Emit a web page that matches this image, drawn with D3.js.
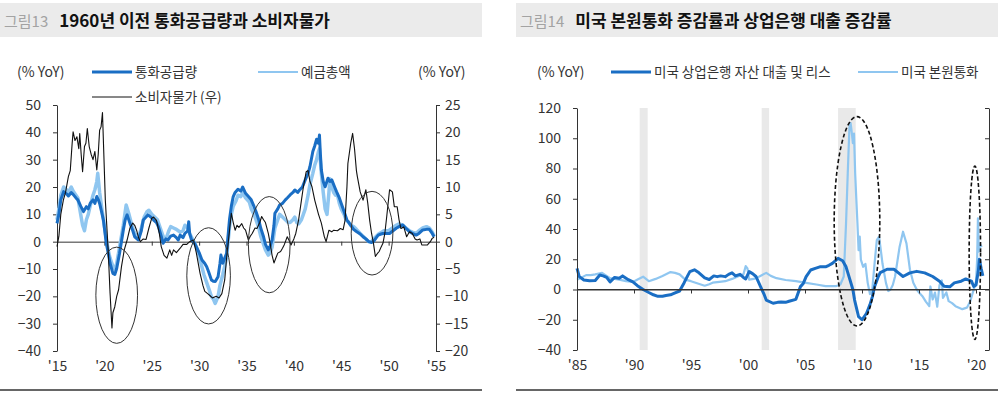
<!DOCTYPE html>
<html><head><meta charset="utf-8">
<script src="https://cdn.jsdelivr.net/npm/d3@7"></script>
<style>
body{margin:0;background:#fff;}
svg{display:block;font-family:"Noto Sans CJK KR","Noto Sans",sans-serif;}
</style></head><body>
<svg id="c" width="1000" height="397"></svg>
<script>
// ---------- Figure 13 data (year, % YoY) ----------
const moneySupply = [[1915.0,6.7],[1915.2,10],[1915.4,15.3],[1915.7,18.3],[1916.0,17.5],[1916.2,16.7],[1916.5,18],[1916.7,17.3],[1917.0,16],[1917.2,15.3],[1917.5,13],[1917.8,11],[1918.1,12.8],[1918.3,12],[1918.5,14],[1918.8,15.3],[1919.0,14],[1919.2,16.5],[1919.4,15],[1919.5,14],[1919.7,11],[1919.9,7.9],[1920.2,-0.6],[1920.4,-4],[1920.6,-7.9],[1920.9,-11.6],[1921.1,-12],[1921.3,-9.8],[1921.6,-4.3],[1922.0,4.3],[1922.2,8],[1922.4,9.8],[1922.7,6.7],[1923.0,4],[1923.2,1.8],[1923.6,0.6],[1923.9,4],[1924.1,7.9],[1924.4,9],[1924.6,9.8],[1924.9,9],[1925.2,7.9],[1925.5,7],[1925.7,5.5],[1926.0,2],[1926.2,-0.6],[1926.5,1],[1926.7,0.6],[1927.0,2],[1927.3,2.4],[1927.6,1.5],[1927.8,0.6],[1928.0,2.4],[1928.3,1.5],[1928.5,3],[1928.8,4],[1928.9,7.3],[1929.0,3],[1929.2,0.6],[1929.5,-0.5],[1929.7,-1.8],[1930.0,-4],[1930.3,-6.7],[1930.6,-8],[1930.8,-9.2],[1931.0,-11],[1931.3,-14],[1931.5,-14.5],[1931.7,-14.6],[1932.0,-12.8],[1932.2,-8],[1932.3,-4.9],[1932.5,-7.9],[1932.7,-6],[1932.9,-4.3],[1933.0,0],[1933.2,7.9],[1933.4,13],[1933.6,16.5],[1933.8,18],[1934.1,19.2],[1934.4,18.5],[1934.6,20],[1934.9,17.7],[1935.2,16.5],[1935.5,15.3],[1935.8,12.8],[1936.0,11],[1936.3,7.9],[1936.5,5],[1936.8,1.8],[1937.0,-1],[1937.3,-3.0],[1937.5,-1.5],[1937.7,0.6],[1937.9,6],[1938.0,10.4],[1938.3,12],[1938.5,13.4],[1938.8,14],[1939.1,15.3],[1939.3,16],[1939.6,17.1],[1939.9,18],[1940.1,18.9],[1940.4,18],[1940.6,18.9],[1940.9,20],[1941.2,22.6],[1941.5,25],[1941.7,27.5],[1942.0,33],[1942.2,35],[1942.4,37.5],[1942.6,36],[1942.7,39],[1942.8,32],[1942.9,26.2],[1943.1,22],[1943.3,20.1],[1943.6,23.2],[1943.8,22],[1944.0,22.6],[1944.3,20],[1944.5,18.3],[1944.8,16],[1945.0,14],[1945.3,11],[1945.6,7.9],[1945.8,7],[1946.1,5.5],[1946.3,4.5],[1946.6,3.7],[1947.0,2.8],[1947.3,1.8],[1947.6,1],[1947.9,0],[1948.2,-0.3],[1948.4,0],[1948.7,1.5],[1948.9,2.4],[1949.2,2.8],[1949.4,3],[1949.8,3],[1950.1,3],[1950.4,3.8],[1950.8,4.9],[1951.1,5.5],[1951.5,6.1],[1951.8,5],[1952.2,3.7],[1952.5,3],[1952.9,2.4],[1953.2,3],[1953.6,4.3],[1954.0,4.5],[1954.3,4.5],[1954.6,3],[1954.8,1.8]];

const deposits = [[1915.0,8],[1915.2,12],[1915.4,17],[1915.7,20],[1916.0,19],[1916.2,18],[1916.5,20],[1916.7,18.5],[1917.0,17],[1917.2,16],[1917.5,10],[1917.7,6],[1917.9,4],[1918.1,8],[1918.3,10],[1918.5,13],[1918.8,17],[1919.0,19],[1919.2,22],[1919.3,25],[1919.5,18],[1919.7,13],[1919.9,8],[1920.2,1],[1920.4,-3],[1920.6,-6],[1920.9,-9],[1921.1,-10],[1921.3,-8],[1921.6,-2],[1922.0,6],[1922.2,11],[1922.3,13.4],[1922.6,10],[1922.9,6],[1923.2,3],[1923.6,1.5],[1923.9,5],[1924.2,9],[1924.5,11],[1924.7,11.5],[1925.0,10],[1925.3,9],[1925.6,8],[1925.8,6],[1926.1,3],[1926.3,1],[1926.6,2],[1926.8,4],[1927.0,5.5],[1927.3,5],[1927.6,4.5],[1927.8,4],[1928.0,3.5],[1928.3,4],[1928.5,6],[1928.8,5],[1929.0,3],[1929.3,1],[1929.6,-1],[1929.9,-4],[1930.2,-8],[1930.5,-12],[1930.8,-15],[1931.1,-18],[1931.3,-20.1],[1931.5,-21],[1931.7,-22.6],[1932.0,-20],[1932.2,-16],[1932.5,-12],[1932.7,-9],[1932.9,-6],[1933.0,-2],[1933.2,5],[1933.4,10],[1933.6,13],[1933.9,15],[1934.1,17],[1934.4,16.5],[1934.6,18],[1934.9,16],[1935.3,14.5],[1935.5,12],[1935.8,10],[1936.0,8],[1936.3,5],[1936.5,2],[1936.8,-1],[1937.0,-3],[1937.3,-4.9],[1937.5,-4],[1937.7,-2],[1938.0,5],[1938.3,8],[1938.5,10],[1938.8,9],[1939.1,8],[1939.4,7],[1939.6,7],[1939.9,8],[1940.1,9],[1940.3,7],[1940.5,6.5],[1940.8,8],[1941.0,10],[1941.2,12],[1941.5,17],[1941.7,21],[1942.0,25],[1942.2,28],[1942.4,30],[1942.6,33],[1942.7,34],[1942.9,25],[1943.1,18],[1943.3,12],[1943.5,10],[1943.7,18],[1943.8,23],[1944.0,20],[1944.2,18],[1944.4,17],[1944.6,17],[1944.8,14],[1945.0,12],[1945.3,10],[1945.5,8],[1945.8,7],[1946.0,6],[1946.3,5.5],[1946.6,4.5],[1947.0,3],[1947.3,2],[1947.6,1],[1947.9,0],[1948.2,0],[1948.4,1],[1948.7,2],[1949.0,3],[1949.3,3.5],[1949.5,4],[1950.0,4],[1950.4,5],[1950.8,6],[1951.1,6.5],[1951.5,6],[1951.8,5],[1952.2,4],[1952.5,3.5],[1952.9,3],[1953.2,4],[1953.6,5],[1954.0,5.5],[1954.3,5],[1954.6,3.5],[1954.8,2]];

const cpi = [[1915.0,-0.9],[1915.2,1],[1915.4,5],[1915.67,7.6],[1915.9,9],[1916.2,11.9],[1916.4,13],[1916.6,18],[1916.7,20.1],[1916.9,18.5],[1917.1,19.2],[1917.3,17],[1917.4,19.8],[1917.55,16],[1917.7,12.8],[1917.9,17.4],[1918.05,18],[1918.2,20.7],[1918.4,17.4],[1918.6,16],[1918.8,15],[1919.0,16.5],[1919.2,13.1],[1919.35,16],[1919.5,20.4],[1919.65,21],[1919.8,23.6],[1920.1,7.6],[1920.4,-1.5],[1920.6,-9.4],[1920.8,-15.8],[1920.9,-13],[1921.1,-11.9],[1921.3,-10],[1921.5,-8.8],[1921.8,-4.6],[1922.1,-1.5],[1922.4,0.3],[1922.7,2.5],[1923.0,3.4],[1923.2,3],[1923.4,2.1],[1923.6,0.8],[1923.8,0],[1924.1,0.5],[1924.4,0.4],[1924.7,2.5],[1925.0,4.3],[1925.2,4.5],[1925.5,3.9],[1925.8,1.5],[1926.0,-0.9],[1926.3,-2.5],[1926.6,-3.0],[1926.9,-1.5],[1927.1,-2.5],[1927.3,-1.5],[1927.6,-2],[1928.0,-1.2],[1928.3,-0.5],[1928.7,-0.5],[1929.0,0],[1929.4,0.3],[1929.7,-2],[1930.1,-5.8],[1930.4,-8],[1930.6,-9.1],[1930.9,-9.5],[1931.1,-9.8],[1931.4,-10.3],[1931.8,-10],[1932.1,-10.3],[1932.4,-9.5],[1932.7,-7],[1932.9,-3],[1933.1,0.3],[1933.4,5.2],[1933.6,3.5],[1933.8,2.1],[1934.0,3],[1934.2,2.6],[1934.5,3.3],[1934.7,2.5],[1934.9,2.1],[1935.2,0.3],[1935.4,1],[1935.6,1.5],[1935.9,2.5],[1936.1,2.4],[1936.4,3.5],[1936.6,4.6],[1936.8,4],[1937.0,3.5],[1937.3,1.5],[1937.5,-0.3],[1937.7,-2.5],[1937.9,-3.9],[1938.1,-3],[1938.3,-2.1],[1938.6,-1.8],[1938.8,-1.2],[1939.0,-0.5],[1939.3,0.9],[1939.5,0.2],[1939.7,-0.6],[1940.0,0.5],[1940.2,1.5],[1940.5,4],[1940.8,7.6],[1941.0,10],[1941.3,12.8],[1941.5,13],[1941.7,11],[1941.9,10.1],[1942.2,7.6],[1942.6,5],[1942.9,3.4],[1943.2,1],[1943.4,0],[1943.7,2.1],[1944.0,1.8],[1944.2,2.1],[1944.6,2],[1944.9,2.4],[1945.2,2.2],[1945.4,3.9],[1945.6,10],[1945.7,14.3],[1946.0,18],[1946.2,19.8],[1946.4,17.0],[1946.6,13],[1946.7,11.9],[1947.0,9.1],[1947.3,7.6],[1947.6,9.5],[1947.8,7],[1948.0,3.9],[1948.2,1.5],[1948.4,-0.3],[1948.6,-2.7],[1948.8,-2.2],[1949.0,-1.8],[1949.2,-1],[1949.4,-0.3],[1949.6,1.5],[1949.8,4.6],[1950.1,9.5],[1950.4,9.1],[1950.6,6.4],[1950.9,6.4],[1951.1,4],[1951.3,2.4],[1951.6,2.7],[1951.9,0.9],[1952.2,1.8],[1952.5,1.5],[1952.8,0.5],[1953.0,0.3],[1953.3,0.5],[1953.5,-0.6],[1953.8,-0.6],[1954.1,-0.6],[1954.4,0],[1954.6,0.6],[1954.8,0.8]];

const ticksL13 = [-40,-30,-20,-10,0,10,20,30,40,50];
const ticksR13 = [-20,-15,-10,-5,0,5,10,15,20,25];
const xTicks13 = [1915,1920,1925,1930,1935,1940,1945,1950,1955];
const xLabels13 = ["'15","'20","'25","'30","'35","'40","'45","'50","'55"];
// annotation ellipses: [centre year, centre value (left axis), half-width in years, half-height in %]
const ellipses13 = [[1921.3,-19.6,2.2,17.6],[1931.0,-12.5,2.3,17.6],[1937.4,-1.1,2.2,17.6],[1948.25,3.1,2.2,15.3]];

// ---------- Figure 14 data ----------
const bankLoans = [[1985.0,14],[1985.2,8.5],[1985.6,6.3],[1986.1,5.8],[1986.6,6],[1987.0,9.6],[1987.3,9],[1987.6,8],[1987.9,5],[1988.3,8],[1988.7,7.5],[1989.0,9],[1989.5,6.5],[1989.9,5],[1990.3,2.5],[1990.8,0],[1991.3,-2],[1991.7,-3.5],[1992.1,-4.5],[1992.5,-4.5],[1992.8,-4],[1993.2,-3.5],[1993.5,-2.5],[1994.0,-1],[1994.4,4.5],[1994.7,9],[1994.9,11.8],[1995.3,13],[1995.7,11],[1996.2,7.7],[1996.6,6.6],[1997.0,9],[1997.3,8.5],[1997.6,9],[1998.0,8.5],[1998.3,10],[1998.6,11],[1998.9,9],[1999.3,10],[1999.6,8],[1999.8,7],[2000.1,11.8],[2000.4,10.5],[2000.7,8.6],[2001.1,1.9],[2001.4,-3],[2001.6,-7],[2002.2,-9.1],[2002.6,-8.5],[2002.9,-8.3],[2003.3,-8.5],[2003.6,-7.8],[2004.2,-6.5],[2004.6,1.9],[2004.85,4],[2005.1,8.5],[2005.5,12.9],[2005.9,14],[2006.3,15],[2006.8,15],[2007.1,16],[2007.4,17.3],[2007.9,20.6],[2008.3,19],[2008.6,15],[2008.9,7.5],[2009.2,0],[2009.35,-7],[2009.7,-18],[2010.0,-20],[2010.4,-15.7],[2010.7,-10],[2010.9,-5],[2011.1,1.9],[2011.4,8],[2011.6,11.1],[2012.2,13.4],[2012.8,13.4],[2013.2,11],[2013.6,8.6],[2014.2,11],[2014.8,12],[2015.5,11],[2016.2,8.6],[2016.8,5.5],[2017.2,2.2],[2017.7,1.8],[2018.1,4.4],[2018.7,5.5],[2019.1,7],[2019.6,5.5],[2019.8,2],[2020.0,3],[2020.2,12],[2020.3,20],[2020.45,14],[2020.6,9]];

const monetaryBase = [[1985.0,6.5],[1985.4,8],[1985.8,9.5],[1986.2,9.5],[1986.6,10],[1987.2,11],[1987.6,9],[1987.9,7.5],[1988.3,7],[1988.7,6.5],[1989.3,5.5],[1989.9,5],[1990.4,7],[1990.8,8.5],[1991.3,5.5],[1991.9,7],[1992.5,9],[1993.2,11.5],[1993.6,11],[1994.0,10],[1994.5,6.5],[1995.0,5.5],[1995.4,4.5],[1995.8,3.5],[1996.2,2.5],[1996.6,3.5],[1996.9,4.5],[1997.5,5],[1998.0,5.5],[1998.6,7],[1999.2,9],[1999.6,10],[1999.8,15.5],[1999.95,14],[2000.1,6.5],[2000.5,7],[2001.0,8.6],[2001.6,11],[2002.0,9],[2002.5,7.5],[2003.3,6.3],[2004.2,5.5],[2005.1,4.4],[2006.0,3.3],[2006.8,2.2],[2007.7,2.2],[2008.1,3.3],[2008.4,8.6],[2008.6,43.8],[2008.75,76.8],[2008.9,107.6],[2009.0,110],[2009.1,104],[2009.2,96.7],[2009.3,103],[2009.4,76.8],[2009.5,60],[2009.6,43.8],[2009.7,26],[2009.8,35],[2009.9,19.8],[2010.1,15],[2010.3,17],[2010.5,4.4],[2010.7,-3],[2010.9,0],[2011.1,17],[2011.3,32.7],[2011.5,35],[2011.8,17],[2012.1,4.4],[2012.3,-1],[2012.5,0],[2012.7,3],[2012.9,8.6],[2013.3,28.3],[2013.6,38.2],[2013.9,30.5],[2014.2,13.4],[2014.5,4.4],[2014.8,0],[2015.0,-2],[2015.3,-4.4],[2015.6,-8],[2015.9,-11],[2016.0,2],[2016.2,-6.6],[2016.4,-2],[2016.6,-11.4],[2016.8,3],[2017.0,6],[2017.1,-5.5],[2017.4,-2],[2017.6,-7.7],[2017.9,-9],[2018.2,-11],[2018.5,-12],[2018.8,-13],[2019.2,-12],[2019.5,-7.7],[2019.8,0],[2020.0,5],[2020.1,20],[2020.17,47],[2020.25,25],[2020.35,30],[2020.5,28]];

const recessions = [[1990.5,1991.2],[2001.2,2001.85],[2007.9,2009.45]];
const ticksL14 = [-40,-20,0,20,40,60,80,100,120];
const xTicks14 = [1985,1990,1995,2000,2005,2010,2015,2020];
const xLabels14 = ["'85","'90","'95","'00","'05","'10","'15","'20"];
const ellipses14 = [[2009.56,45.1,2.0,69.2],[2019.9,24.3,0.5,57.3]];

// ---------- colours ----------
const DARK = "#1a6ec4", LIGHT = "#8fc6f0", TXT = "#333";

const svg = d3.select("#c");

function titleBar(x0, x1, fig, title){
  svg.append("rect").attr("x",x0).attr("y",3).attr("width",x1-x0).attr("height",34).attr("fill","#ebebeb");
  const t = svg.append("text").attr("x",x0+4).attr("y",27);
  t.append("tspan").attr("font-size",15).attr("fill","#a3a3a3").text(fig);
  t.append("tspan").attr("dx",11).attr("font-size",17).attr("font-weight","bold").attr("fill","#111").text(title);
  svg.append("line").attr("x1",x0).attr("x2",x1).attr("y1",390).attr("y2",390).attr("stroke","#333").attr("stroke-width",1.5);
}
function legendItem(x, y, color, w, label){
  svg.append("line").attr("x1",x).attr("x2",x+40).attr("y1",y).attr("y2",y).attr("stroke",color).attr("stroke-width",w);
  svg.append("text").attr("x",x+43).attr("y",y+5).attr("font-size",13.5).attr("fill",TXT).text(label);
}
function styleAxis(g){
  g.selectAll("path,line").attr("stroke",TXT);
  g.selectAll("text").attr("fill",TXT).attr("font-size",14).attr("font-family",'"Noto Sans CJK KR","Noto Sans",sans-serif');
}
function ellipse(g, x, y, e, dashed){
  const [cx, cy, rx, ry] = e;
  g.append("ellipse").attr("cx",x(cx)).attr("cy",y(cy))
    .attr("rx",x(cx+rx)-x(cx)).attr("ry",y(cy-ry)-y(cy))
    .attr("fill","none").attr("stroke",dashed?"#111":"#333")
    .attr("stroke-width",dashed?1.6:1).attr("stroke-dasharray",dashed?"4,2.5":null);
}

// ================= Figure 13 =================
titleBar(0, 482, "그림13", "1960년 이전 통화공급량과 소비자물가");
svg.append("text").attr("x",17).attr("y",77).attr("font-size",14).attr("fill",TXT).text("(% YoY)");
svg.append("text").attr("x",418).attr("y",77).attr("font-size",14).attr("fill",TXT).text("(% YoY)");
legendItem(92, 72, DARK, 3, "통화공급량");
legendItem(258, 72, LIGHT, 2, "예금총액");
legendItem(92, 97, "#111", 1, "소비자물가 (우)");

const x13 = d3.scaleLinear().domain([1915,1955]).range([57,436]);
const yL13 = d3.scaleLinear().domain([-40,50]).range([351,105]);
const yR13 = d3.scaleLinear().domain([-20,25]).range([351,105]);

styleAxis(svg.append("g").attr("transform","translate(57,0)")
  .call(d3.axisLeft(yL13).tickValues(ticksL13).tickSize(4).tickPadding(12).tickSizeOuter(0)));
styleAxis(svg.append("g").attr("transform","translate(436,0)")
  .call(d3.axisRight(yR13).tickValues(ticksR13).tickSize(4).tickPadding(5).tickSizeOuter(0)));
styleAxis(svg.append("g").attr("transform",`translate(0,${yL13(0)})`)
  .call(d3.axisBottom(x13).tickValues(xTicks13).tickSize(4).tickFormat("").tickSizeOuter(0)));
const xl13 = svg.append("g").attr("transform","translate(0,351)")
  .call(d3.axisBottom(x13).tickValues(xTicks13).tickSize(0).tickPadding(10).tickFormat((d,i)=>xLabels13[i]));
xl13.select(".domain").remove();
styleAxis(xl13);

const line13L = d3.line().x(d=>x13(d[0])).y(d=>yL13(d[1]));
const line13R = d3.line().x(d=>x13(d[0])).y(d=>yR13(d[1]));
const p13 = svg.append("g");
p13.append("path").datum(deposits).attr("d",line13L).attr("fill","none").attr("stroke",LIGHT).attr("stroke-width",3.5).attr("stroke-linejoin","round");
p13.append("path").datum(moneySupply).attr("d",line13L).attr("fill","none").attr("stroke",DARK).attr("stroke-width",3).attr("stroke-linejoin","round");
p13.append("path").datum(cpi).attr("d",line13R).attr("fill","none").attr("stroke","#111").attr("stroke-width",1.1).attr("stroke-linejoin","round");
ellipses13.forEach(e=>ellipse(p13, x13, yL13, e, false));

// ================= Figure 14 =================
titleBar(516, 998, "그림14", "미국 본원통화 증감률과 상업은행 대출 증감률");
svg.append("text").attr("x",537).attr("y",77).attr("font-size",14).attr("fill",TXT).text("(% YoY)");
legendItem(611, 72, DARK, 3, "미국 상업은행 자산 대출 및 리스");
legendItem(858, 72, LIGHT, 2, "미국 본원통화");

const x14 = d3.scaleLinear().domain([1985,2020]).range([577,976]);
const xEnd14 = 989;
const y14 = d3.scaleLinear().domain([-40,120]).range([350,108]);

const p14 = svg.append("g");
recessions.forEach(r=>{
  p14.append("rect").attr("x",x14(r[0])).attr("width",x14(r[1])-x14(r[0]))
    .attr("y",y14(120)).attr("height",y14(-40)-y14(120)).attr("fill","#e9e9e9");
});

styleAxis(svg.append("g").attr("transform","translate(577,0)")
  .call(d3.axisLeft(y14).tickValues(ticksL14).tickSize(4).tickPadding(12).tickSizeOuter(0)));
styleAxis(svg.append("g").attr("transform",`translate(${xEnd14},0)`)
  .call(d3.axisRight(y14).tickValues(ticksL14).tickSize(-4).tickFormat("").tickSizeOuter(0)));
svg.append("line").attr("x1",577).attr("x2",xEnd14).attr("y1",y14(0)).attr("y2",y14(0)).attr("stroke",TXT);
styleAxis(svg.append("g").attr("transform",`translate(0,${y14(0)})`)
  .call(d3.axisBottom(x14).tickValues(xTicks14).tickSize(4).tickFormat("").tickSizeOuter(0)));
const xl14 = svg.append("g").attr("transform","translate(0,350)")
  .call(d3.axisBottom(x14).tickValues(xTicks14).tickSize(0).tickPadding(10).tickFormat((d,i)=>xLabels14[i]));
xl14.select(".domain").remove();
styleAxis(xl14);

const line14 = d3.line().x(d=>x14(d[0])).y(d=>y14(d[1]));
p14.append("path").datum(monetaryBase).attr("d",line14).attr("fill","none").attr("stroke",LIGHT).attr("stroke-width",2.2).attr("stroke-linejoin","round");
p14.append("path").datum(bankLoans).attr("d",line14).attr("fill","none").attr("stroke",DARK).attr("stroke-width",3).attr("stroke-linejoin","round");
ellipses14.forEach(e=>ellipse(p14, x14, y14, e, true));
</script>
</body></html>
